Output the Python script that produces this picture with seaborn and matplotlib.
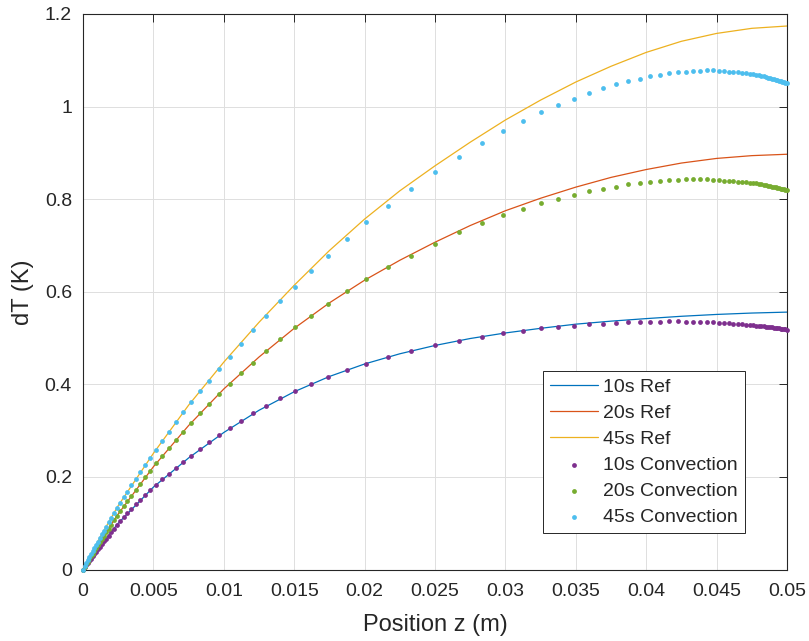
import matplotlib
matplotlib.use('Agg')
import matplotlib.pyplot as plt
import pandas as pd
import seaborn as sns

# reference solutions (lines)
ref_z = [0, 0.00125, 0.0025, 0.005, 0.0075, 0.01, 0.0125, 0.015, 0.0175, 0.02, 0.0225,
         0.025, 0.0275, 0.03, 0.0325, 0.035, 0.0375, 0.04, 0.0425, 0.045, 0.0475, 0.05]
ref_10s = [0, 0.052, 0.100, 0.178, 0.241, 0.296, 0.344, 0.384, 0.417, 0.444, 0.466,
           0.484, 0.499, 0.511, 0.521, 0.530, 0.5365, 0.542, 0.547, 0.551, 0.554, 0.556]
ref_20s = [0, 0.063, 0.120, 0.222, 0.311, 0.390, 0.459, 0.521, 0.576, 0.625, 0.668,
           0.707, 0.743, 0.775, 0.802, 0.826, 0.847, 0.864, 0.878, 0.888, 0.894, 0.897]
ref_45s = [0, 0.072, 0.138, 0.251, 0.355, 0.448, 0.534, 0.614, 0.689, 0.757, 0.818,
           0.872, 0.923, 0.971, 1.014, 1.053, 1.087, 1.117, 1.141, 1.158, 1.169, 1.174]

# convection solution (dots), non-uniform mesh
conv_z = [0.0, 0.000114, 0.000227, 0.000341, 0.000455, 0.000568, 0.000682, 0.000803, 0.000923, 0.001051,
          0.001186, 0.001328, 0.001477, 0.001641, 0.001811, 0.001996, 0.002195, 0.002408, 0.002635, 0.002884,
          0.003146, 0.003430, 0.003736, 0.004063, 0.004411, 0.004787, 0.005192, 0.005625, 0.006087, 0.006584,
          0.007116, 0.007692, 0.008310,
          0.008970, 0.009659, 0.010440, 0.011222, 0.012095, 0.013018, 0.014013, 0.015078, 0.016214, 0.017422,
          0.018729, 0.020121, 0.021662, 0.023260, 0.025000, 0.026705, 0.028338, 0.029851, 0.031229, 0.032528,
          0.033757, 0.034872, 0.035959, 0.036953, 0.037855, 0.038729, 0.039538, 0.040291, 0.040980, 0.041641,
          0.042237, 0.042805, 0.043345, 0.043842, 0.044318, 0.044766, 0.045149, 0.045526, 0.045859, 0.046186,
          0.046499, 0.046783,
          0.047116, 0.047365, 0.047592, 0.047805, 0.048004, 0.048189, 0.048359, 0.048523, 0.048672, 0.048814,
          0.048949, 0.049077, 0.049197, 0.049318, 0.049432, 0.049545, 0.049659, 0.049773, 0.049886, 0.050000]
conv_10s = [0, 0.0047, 0.0094, 0.0142, 0.0189, 0.0236, 0.0284, 0.0334, 0.0384, 0.0437,
            0.0493, 0.0550, 0.0607, 0.0670, 0.0735, 0.0806, 0.0883, 0.0965, 0.1044, 0.1126,
            0.1212, 0.1305, 0.1405, 0.1503, 0.1606, 0.1717, 0.1831, 0.1945, 0.2067, 0.2190,
            0.2318, 0.2455, 0.2598,
            0.275, 0.290, 0.305, 0.321, 0.338, 0.354, 0.370, 0.386, 0.401, 0.416,
            0.430, 0.445, 0.459, 0.471, 0.484, 0.494, 0.503, 0.510, 0.516, 0.521,
            0.524, 0.527, 0.5295, 0.531, 0.5325, 0.534, 0.535, 0.535, 0.5355, 0.536,
            0.536, 0.5355, 0.535, 0.535, 0.5345, 0.534, 0.5335, 0.5325, 0.532, 0.531,
            0.530, 0.5295,
            0.5288, 0.5282, 0.5276, 0.5269, 0.5263, 0.5257, 0.5251, 0.5245, 0.5240, 0.5234,
            0.5229, 0.5223, 0.5218, 0.5213, 0.5208, 0.5202, 0.5197, 0.5191, 0.5186, 0.5180]
conv_20s = [0, 0.0057, 0.0114, 0.0172, 0.0229, 0.0286, 0.0344, 0.0405, 0.0465, 0.0530,
            0.0598, 0.0666, 0.0734, 0.0808, 0.0886, 0.0970, 0.1061, 0.1158, 0.1257, 0.1363,
            0.1474, 0.1594, 0.1724, 0.1853, 0.1989, 0.2137, 0.2291, 0.2450, 0.2620, 0.2795,
            0.2978, 0.3173, 0.3376,
            0.358, 0.379, 0.401, 0.424, 0.447, 0.472, 0.497, 0.523, 0.548, 0.574,
            0.601, 0.627, 0.653, 0.677, 0.704, 0.729, 0.748, 0.765, 0.779, 0.791,
            0.801, 0.809, 0.817, 0.822, 0.827, 0.832, 0.835, 0.838, 0.840, 0.841,
            0.842, 0.8425, 0.8425, 0.8425, 0.8425, 0.842, 0.8413, 0.840, 0.8395, 0.839,
            0.838, 0.8375,
            0.8366, 0.8357, 0.8348, 0.8339, 0.8329, 0.8320, 0.8311, 0.8301, 0.8292, 0.8283,
            0.8273, 0.8264, 0.8256, 0.8247, 0.8238, 0.8229, 0.8220, 0.8210, 0.8200, 0.8190]
conv_45s = [0, 0.0066, 0.0131, 0.0196, 0.0262, 0.0327, 0.0393, 0.0463, 0.0532, 0.0605,
            0.0683, 0.0761, 0.0840, 0.0926, 0.1016, 0.1114, 0.1219, 0.1331, 0.1444, 0.1561,
            0.1685, 0.1819, 0.1963, 0.2105, 0.2256, 0.2418, 0.2591, 0.2775, 0.2971, 0.3176,
            0.3393, 0.3622, 0.3855,
            0.408, 0.434, 0.460, 0.488, 0.517, 0.548, 0.579, 0.611, 0.645, 0.678,
            0.714, 0.750, 0.786, 0.822, 0.858, 0.892, 0.922, 0.947, 0.969, 0.988,
            1.004, 1.017, 1.030, 1.040, 1.048, 1.055, 1.060, 1.065, 1.069, 1.072,
            1.074, 1.0755, 1.077, 1.077, 1.078, 1.078, 1.077, 1.0765, 1.0755, 1.075,
            1.074, 1.073,
            1.0719, 1.0708, 1.0697, 1.0686, 1.0674, 1.0662, 1.0651, 1.0639, 1.0627, 1.0616,
            1.0604, 1.0593, 1.0582, 1.0571, 1.0560, 1.0549, 1.0537, 1.0525, 1.0513, 1.0500]

x_ticks = [0, 0.005, 0.01, 0.015, 0.02, 0.025, 0.03, 0.035, 0.04, 0.045, 0.05]
x_labels = ['0', '0.005', '0.01', '0.015', '0.02', '0.025', '0.03', '0.035', '0.04', '0.045', '0.05']
y_ticks = [0, 0.2, 0.4, 0.6, 0.8, 1.0, 1.2]
y_labels = ['0', '0.2', '0.4', '0.6', '0.8', '1', '1.2']

sns.set_style('white')
plt.rcParams['font.family'] = ['Liberation Sans', 'DejaVu Sans']

fig, ax = plt.subplots(figsize=(8.09, 6.41), dpi=100)
fig.subplots_adjust(left=0.1026, right=0.9728, bottom=0.1115, top=0.9782)

refs = [('10s Ref', ref_10s, '#0072BD'), ('20s Ref', ref_20s, '#D95319'), ('45s Ref', ref_45s, '#EDB120')]
for name, vals, col in refs:
    sns.lineplot(x=ref_z, y=vals, color=col, linewidth=0.9, label=name, ax=ax,
                 estimator=None, sort=False)

convs = [('10s Convection', conv_10s, '#7E2F8E'), ('20s Convection', conv_20s, '#77AC30'),
         ('45s Convection', conv_45s, '#4DBEEE')]
for name, vals, col in convs:
    sns.scatterplot(x=conv_z, y=vals, color=col, s=12, linewidth=0, label=name, ax=ax,
                    clip_on=False, zorder=3)

ax.set_xlim(0, 0.05)
ax.set_ylim(0, 1.2)
ax.set_xticks(x_ticks, labels=x_labels)
ax.set_yticks(y_ticks, labels=y_labels)
ax.grid(True, color='#dedede', linewidth=0.7)
ax.set_axisbelow(True)
for sp in ax.spines.values():
    sp.set_visible(True)
    sp.set_color('#262626')
    sp.set_linewidth(0.8)
ax.tick_params(direction='in', top=True, right=True, length=5.5, width=0.7,
               colors='#262626', labelsize=14)
ax.tick_params(axis='x', pad=10)
ax.tick_params(axis='y', pad=8)
ax.set_xlabel('Position z (m)', fontsize=17, color='#262626', labelpad=10)
ax.set_ylabel('dT (K)', fontsize=17, color='#262626', labelpad=8)

leg = ax.legend(loc='lower left', bbox_to_anchor=(0.653, 0.065), borderaxespad=0,
                fancybox=False, edgecolor='#262626', framealpha=1, fontsize=14,
                handlelength=2.47, handletextpad=0.26, labelspacing=0.43, borderpad=0.38)
leg.get_frame().set_linewidth(0.7)

fig.savefig('out.png', dpi=100)
